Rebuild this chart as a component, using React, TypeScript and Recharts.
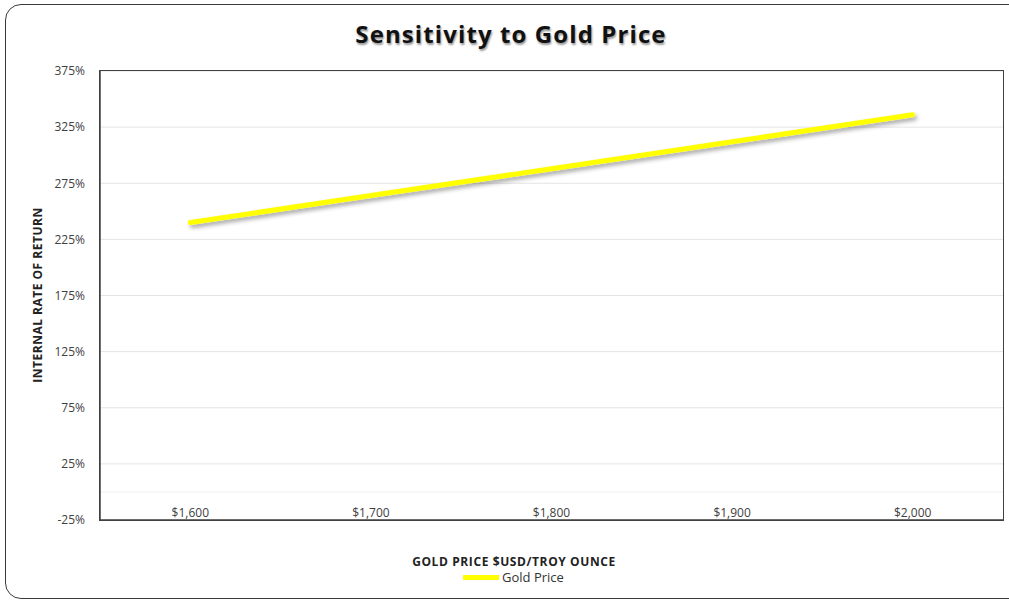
import { LineChart, Line, XAxis, YAxis, CartesianGrid, ReferenceLine } from 'recharts';

const prices = ['$1,600', '$1,700', '$1,800', '$1,900', '$2,000'];
const irr = [240, 264, 288, 312, 336];
const yTicks = [-25, 25, 75, 125, 175, 225, 275, 325, 375];

const data = prices.map((price, i) => ({ price, irr: irr[i] }));

const FONT = '"Open Sans", "DejaVu Sans", sans-serif';

function PriceTick({ x, y, payload }: any) {
  return (
    <text x={x} y={y} dy={-11} textAnchor="middle" fontFamily={FONT} fontSize={12} fill="#404040">
      {payload.value}
    </text>
  );
}

export default function App() {
  return (
    <div style={{ position: 'absolute', left: 0, top: 0, width: 1009, height: 601, background: '#fff', overflow: 'hidden' }}>
      <div
        style={{
          position: 'absolute',
          left: 5,
          top: 4,
          width: 1020,
          height: 593,
          border: '1.5px solid #3a3a3a',
          borderRadius: 16,
        }}
      />
      <div
        style={{
          position: 'absolute',
          left: 0,
          width: 1022,
          top: 18,
          textAlign: 'center',
          fontFamily: FONT,
          fontWeight: 700,
          fontSize: 24,
          letterSpacing: 1.1,
          lineHeight: '32px',
          color: '#111',
          textShadow: '1px 2px 2px rgba(0,0,0,0.4)',
        }}
      >
        Sensitivity to Gold Price
      </div>
      <div
        style={{
          position: 'absolute',
          left: 37,
          top: 295,
          transform: 'translate(-50%, -50%) rotate(-90deg)',
          whiteSpace: 'nowrap',
          fontFamily: FONT,
          fontWeight: 700,
          fontSize: 12,
          letterSpacing: 0.5,
          color: '#222',
        }}
      >
        INTERNAL RATE OF RETURN
      </div>
      <div
        style={{
          position: 'absolute',
          left: 514,
          top: 561,
          transform: 'translate(-50%, -50%)',
          whiteSpace: 'nowrap',
          fontFamily: FONT,
          fontWeight: 700,
          fontSize: 12,
          letterSpacing: 0.6,
          color: '#222',
        }}
      >
        GOLD PRICE $USD/TROY OUNCE
      </div>
      <div
        style={{
          position: 'absolute',
          left: 463,
          top: 577,
          transform: 'translateY(-50%)',
          display: 'flex',
          alignItems: 'center',
          fontFamily: FONT,
          fontSize: 13,
          color: '#333',
        }}
      >
        <span style={{ display: 'inline-block', width: 36, height: 5, background: '#ffff00', marginRight: 3 }} />
        Gold Price
      </div>
      <LineChart
        width={1009}
        height={601}
        data={data}
        margin={{ top: 71, right: 6, bottom: 0, left: 0 }}
        style={{ position: 'absolute', left: 0, top: 0 }}
      >
        <defs>
          <filter id="lineShadow" x="-10%" y="-50%" width="120%" height="200%">
            <feDropShadow dx={2} dy={3} stdDeviation={2} floodColor="#000" floodOpacity={0.35} />
          </filter>
        </defs>
        <CartesianGrid vertical={false} stroke="#e4e4e4" strokeWidth={1} />
        <XAxis
          dataKey="price"
          scale="band"
          height={81}
          axisLine={{ stroke: '#404040', strokeWidth: 1.5 }}
          tickLine={false}
          tick={<PriceTick />}
          interval={0}
        />
        <YAxis
          width={100}
          domain={[-25, 375]}
          ticks={yTicks}
          interval={0}
          tickFormatter={(v: number) => `${v}%`}
          axisLine={{ stroke: '#404040', strokeWidth: 1.5 }}
          tickLine={false}
          tickMargin={9}
          tick={{ fontFamily: FONT, fontSize: 12, fill: '#404040' }}
        />
        <ReferenceLine y={0} stroke="#f0f0f0" strokeWidth={1} />
        <Line
          type="linear"
          dataKey="irr"
          stroke="#ffff00"
          strokeWidth={5}
          strokeLinecap="round"
          dot={false}
          activeDot={false}
          filter="url(#lineShadow)"
          isAnimationActive={false}
        />
      </LineChart>
      {/* plot area frame */}
      <div
        style={{
          position: 'absolute',
          left: 99,
          top: 70,
          width: 903,
          height: 449,
          border: '1.5px solid #404040',
          pointerEvents: 'none',
        }}
      />
    </div>
  );
}
